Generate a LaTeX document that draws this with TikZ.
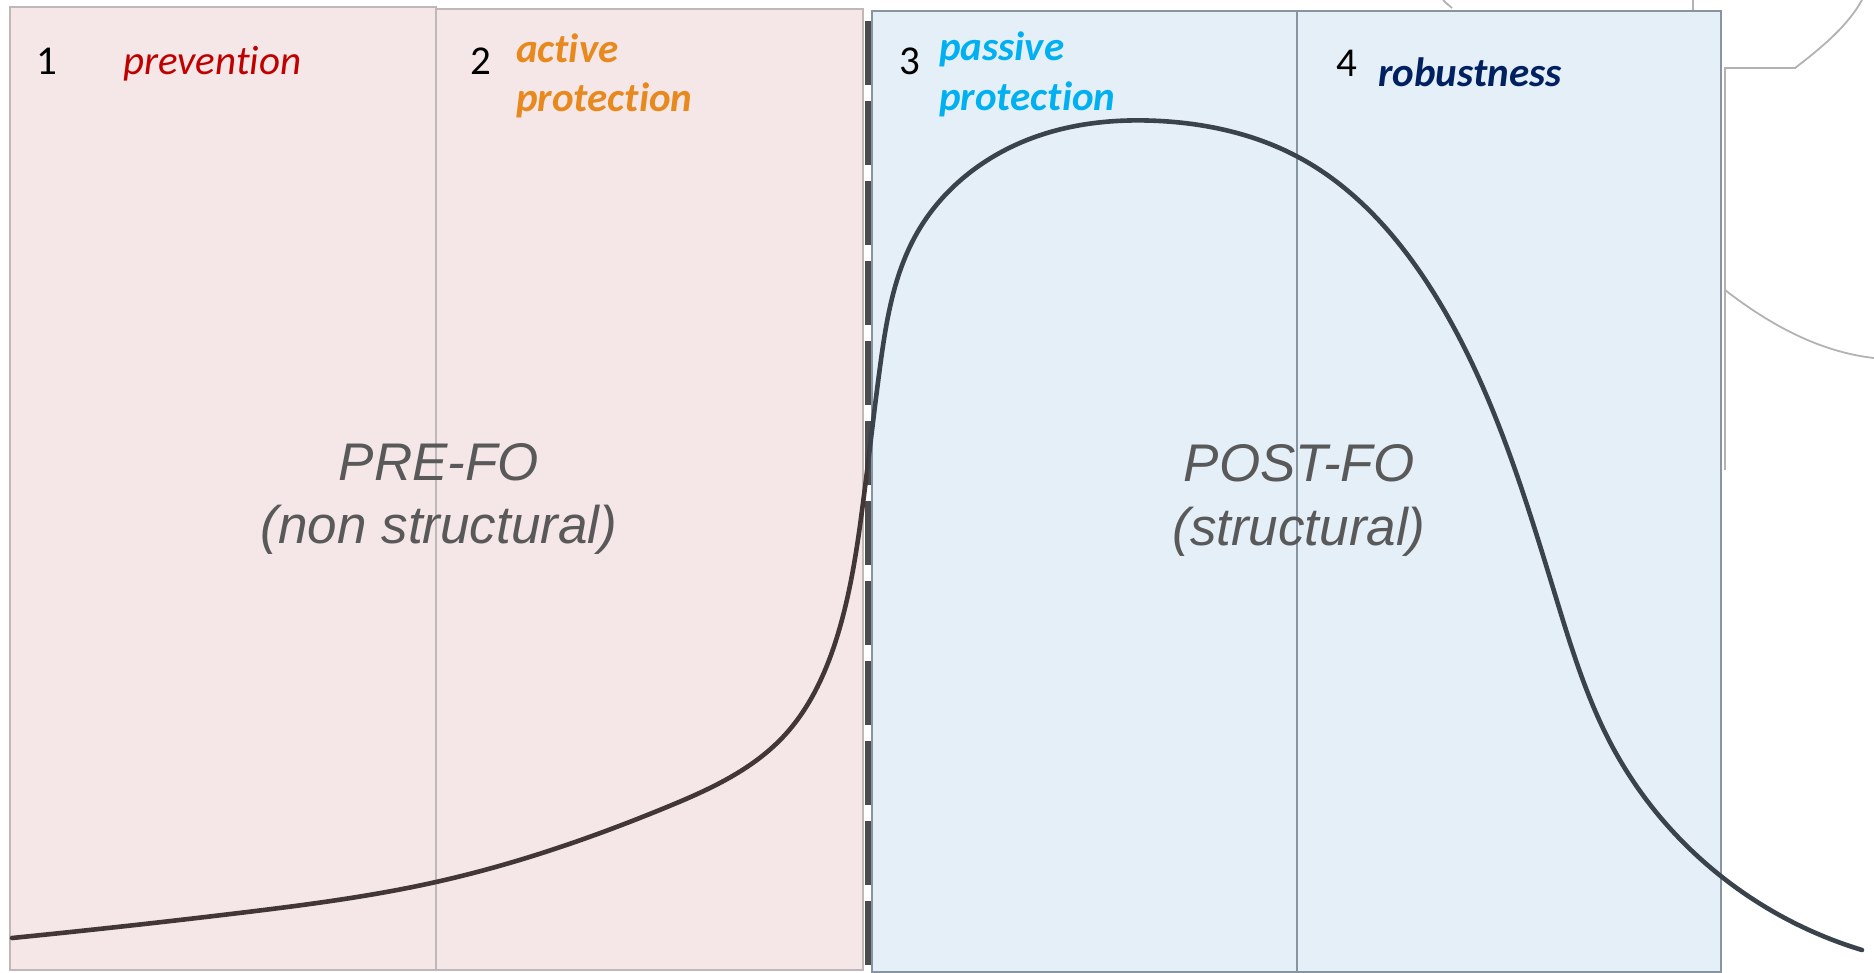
\documentclass[tikz,border=0pt]{standalone}
\usepackage{fontspec}
\setmainfont{Carlito}[Ligatures=NoCommon]
\newfontfamily\arialfont{Liberation Sans}
\usepackage{xcolor}
\usepackage{tikz}
\usetikzlibrary{hobby}

\definecolor{prefill}{RGB}{245,231,231}
\definecolor{preedge}{RGB}{192,184,184}
\definecolor{postfill}{RGB}{228,239,248}
\definecolor{postedge}{RGB}{136,148,160}
\definecolor{precurve}{RGB}{66,54,54}
\definecolor{postcurve}{RGB}{58,66,76}
\definecolor{prevcol}{RGB}{192,0,0}
\definecolor{activecol}{RGB}{232,137,30}
\definecolor{passivecol}{RGB}{0,176,240}
\definecolor{robustcol}{RGB}{0,32,96}
\definecolor{bigtext}{RGB}{89,89,89}
\definecolor{leftover}{RGB}{178,178,178}

\begin{document}
\begin{tikzpicture}[x=1pt,y=-1pt,
  prebox/.style={draw=preedge,line width=1.6pt,fill=prefill},
  postbox/.style={draw=postedge,line width=1.6pt,fill=postfill},
  num/.style={anchor=base west,inner sep=0pt,font=\fontsize{41}{49}\selectfont},
  phase/.style={anchor=base west,inner sep=0pt,font=\fontsize{41}{49}\selectfont\bfseries\itshape},
  big/.style={anchor=base,inner sep=0pt,text=bigtext,font=\arialfont\itshape\fontsize{53}{62}\selectfont},
  curve/.style={line width=4.6pt,line cap=round,use Hobby shortcut},
  rest/.style={draw=leftover,line width=1.8pt},
]
\useasboundingbox (0,0) rectangle (1874,972);

% pieces of a neighbouring figure
\draw[rest] (1443,0) .. controls (1446,3) .. (1452,8);
\draw[rest] (1693,0) -- (1693,10);
\draw[rest] (1725,470) -- (1725,68) -- (1795,68)
  .. controls (1825,45) and (1848,25) .. (1862,0);
\draw[rest] (1725,290) .. controls (1770,325) and (1820,352) .. (1874,358);

% the four phases
\draw[prebox] (10,7) rectangle (436,970);
\draw[prebox] (436,9) rectangle (863,970);
\draw[postbox] (872,11) rectangle (1297,972);
\draw[postbox] (1297,11) rectangle (1721,972);

\draw[line width=6.5pt,draw=black!70,dash pattern=on 64pt off 16pt,dash phase=-6pt]
  (868,15) -- (868,972);

% curve
\def\curvepath{(12,938) .. (239,913) .. (436,882) .. (667,807) .. (783,737)
  .. (837,637) .. (863,503) .. (880,367) .. (917,233) .. (1027,140)
  .. (1160,121) .. (1300,158) .. (1428,284) .. (1502,434) .. (1557,601)
  .. (1612,746) .. (1722,877) .. (1862,950)}
\begin{scope}
  \clip (868,0) rectangle (1874,972);
  \draw[curve,postcurve] \curvepath;
\end{scope}
\begin{scope}
  \clip (0,0) rectangle (868,972);
  \draw[curve,precurve] \curvepath;
\end{scope}

\node[num] (n1) at (36,74) {1};
\node[phase,font=\fontsize{41}{49}\selectfont\itshape,text=prevcol] (prev) at (123,74) {prevention};
\node[num] (n2) at (470,74) {2};
\node[phase,text=activecol] (act1) at (516,62) {active};
\node[phase,text=activecol] (act2) at (516,111) {protection};
\node[num] (n3) at (899,74) {3};
\node[phase,text=passivecol] (pas1) at (939,60) {passive};
\node[phase,text=passivecol] (pas2) at (939,110) {protection};
\node[num] (n4) at (1336,76) {4};
\node[phase,text=robustcol] (rob) at (1378,86) {robustness};

\node[big] (pre) at (439,480) {PRE-FO};
\node[big] (presub) at (439,543) {(non structural)};
\node[big] (post) at (1299,481) {POST-FO};
\node[big] (postsub) at (1299,545) {(structural)};
\end{tikzpicture}
\end{document}
